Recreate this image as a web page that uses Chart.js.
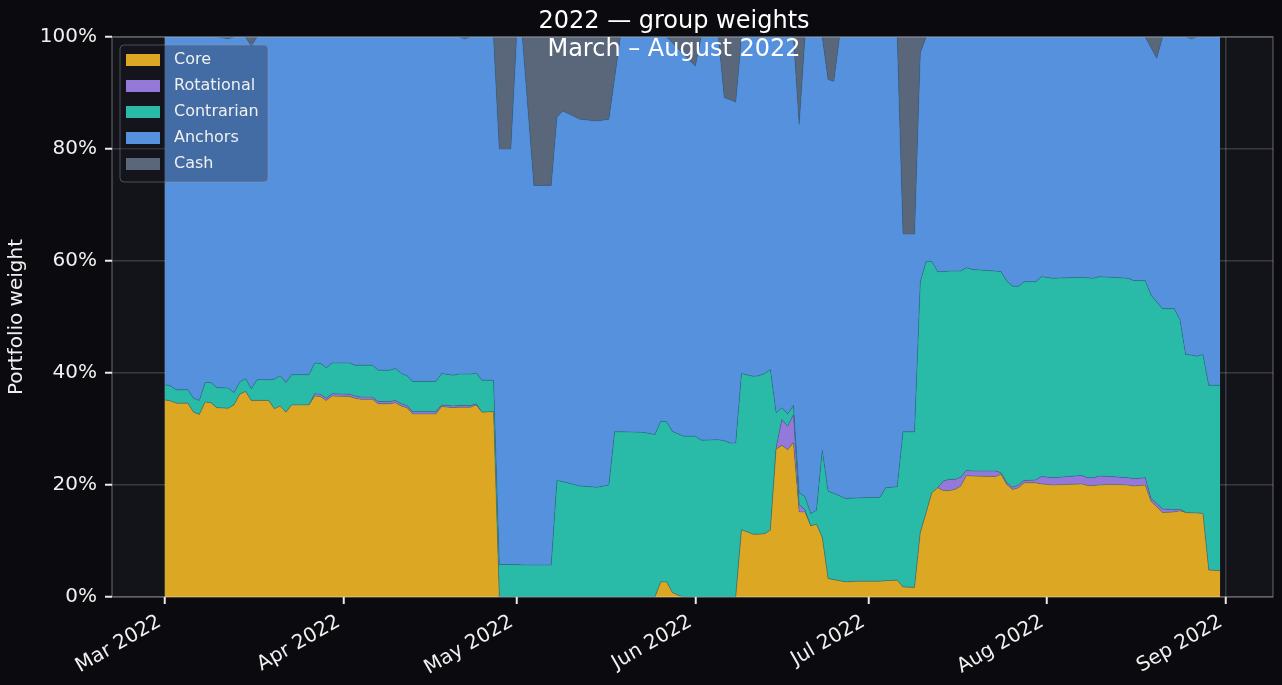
<!DOCTYPE html>
<html>
<head>
<meta charset="utf-8">
<title>2022 — group weights</title>
<script src="https://cdn.jsdelivr.net/npm/chart.js@4.4.1/dist/chart.umd.min.js"></script>
<style>
  html, body { margin: 0; padding: 0; background: #0b0b0f; }
  #wrap { width: 1282px; height: 685px; }
</style>
</head>
<body>
<div id="wrap"><canvas id="weights" width="1282" height="685"></canvas></div>
<script>
// portfolio group weights in % (vertex days only)
const dates = [
  '2022-03-01','2022-03-02','2022-03-03','2022-03-05','2022-03-06','2022-03-07','2022-03-08','2022-03-09','2022-03-10','2022-03-12',
  '2022-03-13','2022-03-14','2022-03-15','2022-03-16','2022-03-17','2022-03-19','2022-03-20','2022-03-21','2022-03-22','2022-03-23',
  '2022-03-26','2022-03-27','2022-03-28','2022-03-29','2022-03-30','2022-04-02','2022-04-03','2022-04-04','2022-04-06','2022-04-07',
  '2022-04-09','2022-04-10','2022-04-11','2022-04-12','2022-04-13','2022-04-17','2022-04-18','2022-04-20','2022-04-21','2022-04-22',
  '2022-04-23','2022-04-24','2022-04-25','2022-04-27','2022-04-28','2022-04-30','2022-05-01','2022-05-02','2022-05-04','2022-05-07',
  '2022-05-08','2022-05-09','2022-05-12','2022-05-15','2022-05-17','2022-05-18','2022-05-19','2022-05-23','2022-05-25','2022-05-26',
  '2022-05-27','2022-05-28','2022-05-29','2022-05-30','2022-05-31','2022-06-01','2022-06-02','2022-06-05','2022-06-06','2022-06-07',
  '2022-06-08','2022-06-09','2022-06-11','2022-06-12','2022-06-13','2022-06-14','2022-06-15','2022-06-16','2022-06-17','2022-06-18',
  '2022-06-19','2022-06-20','2022-06-21','2022-06-22','2022-06-23','2022-06-24','2022-06-25','2022-06-26','2022-06-27','2022-06-29',
  '2022-07-03','2022-07-04','2022-07-06','2022-07-07','2022-07-09','2022-07-10','2022-07-11','2022-07-12','2022-07-13','2022-07-14',
  '2022-07-15','2022-07-16','2022-07-17','2022-07-18','2022-07-19','2022-07-23','2022-07-24','2022-07-25','2022-07-26','2022-07-27',
  '2022-07-28','2022-07-30','2022-07-31','2022-08-02','2022-08-07','2022-08-08','2022-08-09','2022-08-10','2022-08-12','2022-08-15',
  '2022-08-16','2022-08-18','2022-08-19','2022-08-20','2022-08-21','2022-08-23','2022-08-24','2022-08-25','2022-08-26','2022-08-27',
  '2022-08-28','2022-08-29','2022-08-31'
];
const core = [
  35.2,35.0,34.6,34.6,33.0,32.6,34.8,34.7,33.8,33.7,
  34.3,36.2,36.7,35.1,35.1,35.1,33.6,34.1,33.0,34.3,
  34.3,35.9,35.8,35.1,35.9,35.8,35.5,35.3,35.3,34.5,
  34.5,34.7,34.1,33.8,32.7,32.7,34.0,33.8,33.9,33.9,
  33.9,34.3,33.0,33.1,0,0,0,0,0,0,
  0,0,0,0,0,0,0,0,0,2.7,
  2.7,0.8,0.3,0,0,0,0,0,0,0,
  0,12.0,11.2,11.2,11.3,11.9,26.4,27.1,26.3,27.6,
  15.2,15.2,12.7,13.0,10.6,3.3,3.1,2.9,2.7,2.8,
  2.8,2.9,3.0,1.8,1.7,11.5,15.0,18.6,19.5,19.0,
  19.0,19.2,19.8,21.7,21.6,21.5,21.9,20.1,19.2,19.5,
  20.4,20.4,20.2,20.0,20.2,19.9,19.9,20.0,20.1,20.0,
  19.8,20.0,17.1,16.1,15.1,15.2,15.4,15.1,15.0,15.0,
  14.9,4.8,4.7
];
const rotational = [
  0,0,0,0,0,0,0,0,0,0,
  0,0,0,0,0,0,0,0,0,0,
  0,0.4,0.4,0.4,0.4,0.4,0.4,0.4,0.4,0.4,
  0.4,0.4,0.4,0.4,0.4,0.4,0.3,0.3,0.3,0.3,
  0.3,0.2,0,0,0,0,0,0,0,0,
  0,0,0,0,0,0,0,0,0,0,
  0,0,0,0,0,0,0,0,0,0,
  0,0,0,0,0,0,0.3,4.6,4.2,5.0,
  1.3,0.4,0,0,0,0,0,0,0,0,
  0,0,0,0,0,0,0,0,0,1.7,
  2.0,1.8,1.6,0.9,0.9,1.0,0.3,0.3,0.4,0.5,
  0.4,0.5,1.3,1.3,1.5,1.4,1.4,1.6,1.4,1.3,
  1.3,1.3,0.5,0.6,0.6,0.4,0.3,0,0,0,
  0,0,0
];
const contrarian = [
  2.7,2.7,2.4,2.4,2.5,2.5,3.5,3.6,3.6,3.6,
  2.2,2.2,2.3,2.1,3.7,3.7,5.3,5.4,5.3,5.4,
  5.4,5.5,5.5,5.4,5.5,5.6,5.5,5.7,5.7,5.6,
  5.6,5.7,5.4,5.3,5.4,5.4,5.6,5.5,5.6,5.6,
  5.6,5.5,5.7,5.6,5.8,5.8,5.8,5.7,5.7,5.7,
  20.8,20.6,19.8,19.6,20.0,29.5,29.5,29.4,29.0,28.7,
  28.6,28.8,28.8,28.7,28.7,28.7,28.0,28.1,27.9,27.5,
  27.5,27.9,28.2,28.3,28.6,28.7,6.2,2.1,2.2,1.6,
  2.1,2.3,2.2,2.5,15.6,15.6,15.4,15.2,14.9,14.9,
  15.0,16.6,16.7,27.7,27.8,44.8,44.9,41.3,38.6,37.4,
  37.2,37.2,36.8,36.2,36.0,35.7,35.9,36.0,35.9,35.5,
  35.5,35.4,35.7,35.6,35.4,35.7,35.6,35.6,35.6,35.6,
  35.4,35.2,36.3,36.0,35.8,35.9,33.9,28.2,28.2,28.0,
  28.4,33.0,33.1
];
const anchors = [
  62.1,62.3,63.0,63.0,64.5,64.9,61.7,61.7,62.6,62.4,
  63.5,61.6,61.0,61.2,61.2,61.2,61.1,60.5,61.7,60.3,
  60.3,58.2,58.3,59.1,58.2,58.2,58.6,58.6,58.6,59.5,
  59.5,59.2,60.1,60.5,61.5,61.5,60.1,60.4,60.2,59.9,
  60.2,60.0,61.3,61.3,74.2,74.2,94.2,94.3,67.8,67.8,
  64.9,66.2,65.5,65.4,65.3,63.2,70.5,70.6,71.0,68.6,
  68.7,69.4,68.8,68.2,67.1,66.1,72.0,71.9,61.3,61.3,
  60.9,60.1,60.6,60.5,60.1,59.4,67.1,66.2,67.3,65.8,
  65.8,82.1,85.1,84.5,73.8,73.5,73.6,81.9,82.4,82.3,
  82.2,80.5,80.3,35.3,35.3,40.9,40.1,40.1,41.9,41.9,
  41.8,41.8,41.8,41.2,41.5,41.8,41.9,43.6,44.5,44.5,
  43.7,43.7,42.8,43.1,42.9,43.0,43.1,42.8,42.9,43.1,
  43.5,43.5,44.2,43.5,48.5,48.5,50.4,56.7,56.5,57.0,
  56.7,62.2,62.2
];
const cash = [
  0,0,0,0,0,0,0,0,0,0.3,
  0,0,0,1.6,0,0,0,0,0,0,
  0,0,0,0,0,0,0,0,0,0,
  0,0,0,0,0,0,0,0,0,0.3,
  0,0,0,0,20,20,0,0,26.5,26.5,
  14.3,13.2,14.7,15.0,14.7,7.3,0,0,0,0,
  0,1.0,2.1,3.1,4.2,5.2,0,0,10.8,11.2,
  11.6,0,0,0,0,0,0,0,0,0,
  15.6,0,0,0,0,7.6,7.9,0,0,0,
  0,0,0,35.2,35.2,2.8,0,0,0,0,
  0,0,0,0,0,0,0,0,0,0,
  0,0,0,0,0,0,0,0,0,0,
  0,0,1.9,3.8,0,0,0,0,0.3,0,
  0,0,0
];
const tickDates = ['2022-03-01','2022-04-01','2022-05-01','2022-06-01','2022-07-01','2022-08-01','2022-09-01'];
const tickLabels = ['Mar 2022','Apr 2022','May 2022','Jun 2022','Jul 2022','Aug 2022','Sep 2022'];

const seriesNames = ['Core', 'Rotational', 'Contrarian', 'Anchors', 'Cash'];
const seriesColors = ['#dca823', '#9479db', '#29bba8', '#5591dc', '#5a6679'];

const toDay = s => Date.parse(s + 'T00:00:00Z') / 864e5;
const days = dates.map(toDay);
const monthTicks = tickDates.map(toDay);
const xMin = days[0] - 9.15;
const xMax = days[days.length - 1] + 9.15;

const txt = '#f0f0f0';
Chart.defaults.font.family = "'DejaVu Sans', sans-serif";

const datasets = [core, rotational, contrarian, anchors, cash].map((vals, k) => ({
  label: seriesNames[k],
  data: vals.map((v, i) => ({ x: days[i], y: v })),
  backgroundColor: seriesColors[k],
  borderColor: 'rgba(45,95,130,0.55)',
  borderWidth: 0.7,
  pointRadius: 0,
  tension: 0,
  fill: k === 0 ? 'origin' : '-1'
}));

const backdrop = {
  id: 'backdrop',
  beforeDraw(chart) {
    const { ctx, chartArea: a } = chart;
    ctx.save();
    ctx.fillStyle = '#0b0b0f';
    ctx.fillRect(0, 0, chart.width, chart.height);
    ctx.fillStyle = '#13131a';
    ctx.fillRect(a.left, a.top, a.right - a.left, a.bottom - a.top);
    ctx.restore();
  }
};

const overlay = {
  id: 'overlay',
  afterDraw(chart) {
    const { ctx, chartArea: a } = chart;
    ctx.save();
    // frame
    ctx.strokeStyle = 'rgba(255,255,255,0.25)';
    ctx.lineWidth = 1.5;
    ctx.strokeRect(a.left, a.top, a.right - a.left, a.bottom - a.top);

    // title lines
    ctx.fillStyle = '#ffffff';
    ctx.font = "24px 'DejaVu Sans'";
    ctx.textAlign = 'center';
    ctx.textBaseline = 'alphabetic';
    ctx.fillText('2022 — group weights', 674, 28);
    ctx.fillText('March – August 2022', 674, 56);

    // legend
    const lx = a.left + 8, ly = a.top + 8, lw = 148, lh = 137;
    ctx.beginPath();
    ctx.roundRect(lx, ly, lw, lh, 4);
    ctx.fillStyle = 'rgba(22,24,34,0.3)';
    ctx.fill();
    ctx.strokeStyle = 'rgba(150,150,160,0.45)';
    ctx.lineWidth = 1;
    ctx.stroke();
    ctx.font = "16px 'DejaVu Sans'";
    ctx.textAlign = 'left';
    ctx.textBaseline = 'middle';
    seriesNames.forEach((name, i) => {
      const cy = ly + 15 + i * 26;
      ctx.fillStyle = seriesColors[i];
      ctx.fillRect(lx + 6, cy - 6, 34, 12);
      ctx.fillStyle = txt;
      ctx.fillText(name, lx + 54, cy);
    });
    ctx.restore();
  }
};

new Chart(document.getElementById('weights'), {
  type: 'line',
  data: { datasets },
  options: {
    responsive: false,
    animation: false,
    devicePixelRatio: 1,
    layout: { padding: { left: 0, right: 9, top: 37, bottom: 0 } },
    plugins: { legend: { display: false }, tooltip: { enabled: false } },
    scales: {
      x: {
        type: 'linear',
        min: xMin,
        max: xMax,
        z: 1,
        afterFit: s => { s.height = 88; },
        afterBuildTicks: s => { s.ticks = monthTicks.map(v => ({ value: v })); },
        border: { display: false },
        grid: { color: 'rgba(255,255,255,0.17)', lineWidth: 1.5, tickColor: '#e8e8e8', tickLength: 7, tickWidth: 2 },
        ticks: {
          callback: (v, i) => tickLabels[i],
          autoSkip: false,
          minRotation: 30,
          maxRotation: 30,
          padding: 6,
          labelOffset: -5,
          color: txt,
          font: { size: 20 }
        }
      },
      y: {
        stacked: true,
        min: 0,
        max: 100,
        z: 1,
        afterFit: s => { s.width = 112; },
        border: { display: false },
        grid: { color: 'rgba(255,255,255,0.17)', lineWidth: 1.5, tickColor: '#e8e8e8', tickLength: 7, tickWidth: 2 },
        ticks: { stepSize: 20, callback: v => v + '%', padding: 8, color: txt, font: { size: 20 } },
        title: { display: true, text: 'Portfolio weight', color: txt, font: { size: 20 }, padding: { top: 5, bottom: 0 } }
      }
    }
  },
  plugins: [backdrop, overlay]
});
</script>
</body>
</html>
